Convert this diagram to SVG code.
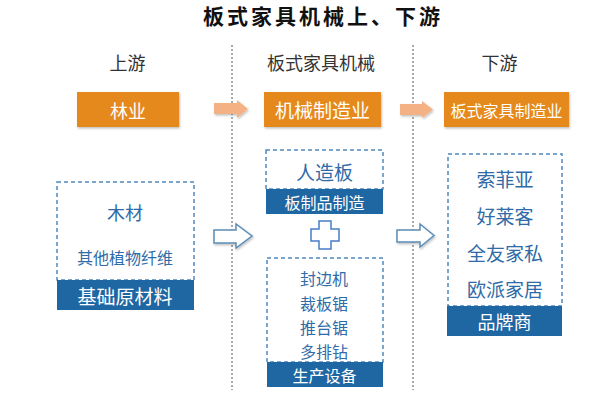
<svg xmlns="http://www.w3.org/2000/svg" width="597" height="402" viewBox="0 0 597 402">
<defs>
<style>
text{font-family:"Noto Sans CJK SC","Noto Sans CJK TC",sans-serif;text-anchor:middle;dominant-baseline:central}
.title{font-weight:bold;font-size:21px;fill:#111}
.col{font-size:18px;fill:#333}
.ob{fill:#E5891A}
.ot{fill:#fff;font-size:18px}
.dash{fill:#fff;stroke:#4F88C0;stroke-width:1.5;stroke-dasharray:4 3}
.bar{fill:#1F67A3}
.bt{fill:#fff;font-size:17px}
.it{fill:#2F6BA8;font-size:18px}
.sep{stroke:#555;stroke-width:1;stroke-dasharray:2 2;fill:none}
.oa{fill:#F4B183}
.ha{fill:#fff;stroke:#5B8DB8;stroke-width:1.5}
.plus{fill:#fff;stroke:#4A7CC9;stroke-width:1.5}
</style>
<filter id="sh" x="-20%" y="-20%" width="140%" height="150%">
<feDropShadow dx="1" dy="1.5" stdDeviation="1.2" flood-color="#000" flood-opacity="0.25"/>
</filter>
</defs>
<rect width="597" height="402" fill="#fff"/>
<text class="title" x="321.5" y="15" textLength="237" lengthAdjust="spacing">板式家具机械上、下游</text>

<g id="separators">
<line class="sep" x1="232" y1="45" x2="232" y2="390"/>
<line class="sep" x1="413" y1="45" x2="413" y2="390"/>
</g>

<g id="column-labels">
<text class="col" x="127.5" y="62">上游</text>
<text class="col" x="321" y="62">板式家具机械</text>
<text class="col" x="499.5" y="62">下游</text>
</g>

<g id="node-forestry">
<rect class="ob" x="77" y="92" width="102" height="35" filter="url(#sh)"/>
<text class="ot" x="128" y="109.5">林业</text>
</g>
<g id="node-machinery">
<rect class="ob" x="264" y="92" width="117" height="35" filter="url(#sh)"/>
<text class="ot" x="322.5" y="109.5" style="font-size:19px">机械制造业</text>
</g>
<g id="node-furniture">
<rect class="ob" x="444" y="92" width="125" height="35" filter="url(#sh)"/>
<text class="ot" x="506.5" y="109.5" style="font-size:16px">板式家具制造业</text>
</g>

<g id="node-raw">
<rect class="dash" x="57" y="182" width="137" height="98"/>
<text class="it" x="125" y="212">木材</text>
<text class="it" x="125" y="257" style="font-size:16px">其他植物纤维</text>
<rect class="bar" x="57" y="280" width="137" height="30"/>
<text class="bt" x="125" y="295" style="font-size:19px">基础原材料</text>
</g>

<g id="node-board">
<rect class="dash" x="266" y="150" width="117" height="39"/>
<text class="it" x="324.5" y="171" style="font-size:19px">人造板</text>
<rect class="bar" x="266" y="189" width="117" height="25"/>
<text class="bt" x="324.5" y="201.5" style="font-size:16px">板制品制造</text>
</g>

<g id="node-plus">
<path class="plus" d="M319,221 H331 V229 H339 V241 H331 V249 H319 V241 H311 V229 H319 Z"/>
</g>

<g id="node-equipment">
<rect class="dash" x="267" y="258" width="116" height="104"/>
<text class="it" x="324" y="278" style="font-size:16px">封边机</text>
<text class="it" x="324" y="302.5" style="font-size:16px">裁板锯</text>
<text class="it" x="324" y="327" style="font-size:16px">推台锯</text>
<text class="it" x="324" y="351" style="font-size:16px">多排钻</text>
<rect class="bar" x="267" y="362" width="116" height="25"/>
<text class="bt" x="324.5" y="374.5" style="font-size:16px">生产设备</text>
</g>

<g id="node-brands">
<rect class="dash" x="448" y="154" width="114" height="152"/>
<text class="it" x="505" y="178" style="font-size:19px">索菲亚</text>
<text class="it" x="505" y="215" style="font-size:19px">好莱客</text>
<text class="it" x="505" y="252" style="font-size:19px">全友家私</text>
<text class="it" x="505" y="288" style="font-size:19px">欧派家居</text>
<rect class="bar" x="447" y="306" width="115" height="30"/>
<text class="bt" x="504.5" y="321" style="font-size:18px">品牌商</text>
</g>

<g id="connectors">
<path class="oa" filter="url(#sh)" d="M214,103 H237 V100 L248,109 L237,118 V114 H214 Z"/>
<path class="oa" filter="url(#sh)" d="M400,104 H422 V101 L433,109.5 L422,118 V115 H400 Z"/>
<path class="ha" filter="url(#sh)" d="M214,230 H236 V224 L252,236 L236,248 V243 H214 Z"/>
<path class="ha" filter="url(#sh)" d="M397,230 H420 V224 L434,235.5 L420,247 V242 H397 Z"/>
</g>
</svg>
